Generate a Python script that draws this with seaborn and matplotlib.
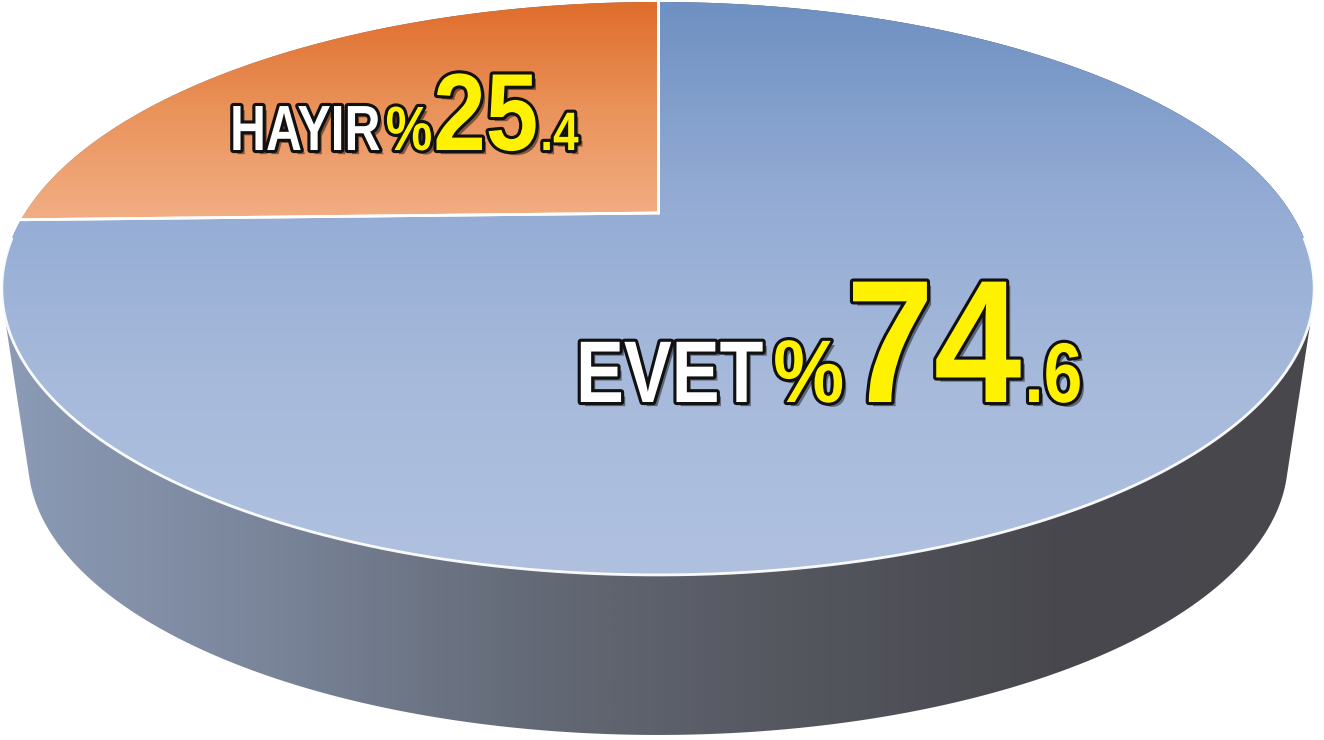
import numpy as np
import matplotlib
matplotlib.use("Agg")
import matplotlib.pyplot as plt
import seaborn as sns
from matplotlib.patches import Polygon
from matplotlib.colors import LinearSegmentedColormap
from matplotlib.transforms import Affine2D
import matplotlib.patheffects as pe

# ---- data ----
labels = ["HAYIR", "EVET"]
values = [25.4, 74.6]
int_parts = ["25", "74"]
dec_parts = [".4", ".6"]

sns.set_theme(style="white")
FONT = ["Liberation Sans", "DejaVu Sans"]
plt.rcParams["font.family"] = FONT

# perspective geometry of the pie (pixel space)
XC, YC, W, H, K = 658.0, 213.0, 633.0, 266.6, 0.2634
SB = 0.96            # bottom face scale
YCB = 387.5          # bottom face centre


def proj(theta, w=W, h=H, yc=YC):
    x, y = np.cos(theta), np.sin(theta)
    d = 1 + K * y
    return np.column_stack([XC + w * x / d, yc - h * y / d])


def hull(points):
    pts = sorted(map(tuple, points))
    def cross(o, a, b):
        return (a[0] - o[0]) * (b[1] - o[1]) - (a[1] - o[1]) * (b[0] - o[0])
    lower, upper = [], []
    for p in pts:
        while len(lower) >= 2 and cross(lower[-2], lower[-1], p) <= 0:
            lower.pop()
        lower.append(p)
    for p in reversed(pts):
        while len(upper) >= 2 and cross(upper[-2], upper[-1], p) <= 0:
            upper.pop()
        upper.append(p)
    return np.array(lower[:-1] + upper[:-1])


fig = plt.figure(figsize=(13.24, 7.4), dpi=100)
ax = fig.add_axes([0, 0, 1, 1])
ax.set_xlim(0, 1324)
ax.set_ylim(740, 0)
ax.axis("off")


def grad_fill(poly, cmap, vertical=True):
    pts = poly.get_xy()
    x0, x1 = pts[:, 0].min(), pts[:, 0].max()
    y0, y1 = pts[:, 1].min(), pts[:, 1].max()
    g = np.linspace(0, 1, 256)
    arr = g[:, None] if vertical else g[None, :]
    im = ax.imshow(arr, cmap=cmap, extent=(x0, x1, y1, y0), origin="upper",
                   aspect="auto", interpolation="bicubic", zorder=poly.get_zorder())
    im.set_clip_path(poly)


# cylinder body (hull of top and bottom outlines)
tt = np.linspace(0, 2 * np.pi, 720, endpoint=False)
body_pts = hull(np.vstack([proj(tt), proj(tt, W * SB, H * SB, YCB)]))
side = Polygon(body_pts, closed=True, facecolor="none", edgecolor="none", zorder=1)
ax.add_patch(side)
side_cmap = LinearSegmentedColormap.from_list(
    "side", ["#8b9bb6", "#7a859a", "#646a77", "#55575f", "#48484e", "#47474c"])
grad_fill(side, side_cmap, vertical=False)

# top slices
start = np.pi / 2
cmaps = [
    LinearSegmentedColormap.from_list("o", ["#df6d2c", "#ea935b", "#f2ae84"]),
    LinearSegmentedColormap.from_list("b", ["#6e90c2", "#93abd4", "#a7badb", "#b0c1e0"]),
]
total = sum(values)
for v, cm in zip(values, cmaps):
    ang = v / total * 2 * np.pi
    th = np.linspace(start, start + ang, 400)
    arc = proj(th)
    pts = np.vstack([[[XC, YC]], arc])
    poly = Polygon(pts, closed=True, facecolor="none", edgecolor="none", zorder=2)
    ax.add_patch(poly)
    grad_fill(poly, cm, vertical=True)
    ax.plot([XC, arc[0, 0]], [YC, arc[0, 1]], color="white", lw=2, zorder=3)
    ax.plot([XC, arc[-1, 0]], [YC, arc[-1, 1]], color="white", lw=2, zorder=3)
    start += ang

# white rim along the front edge of the top face
rim = proj(np.linspace(np.pi * 1.03, np.pi * 1.97, 300))
ax.plot(rim[:, 0], rim[:, 1], color="white", lw=2, zorder=3, alpha=0.95)


# ---- labels (tall, condensed lettering) ----
class Stretch(pe.AbstractPathEffect):
    """Stretch glyphs vertically about the baseline."""
    def __init__(self, inner, sy):
        super().__init__()
        self.inner, self.sy = inner, sy

    def draw_path(self, renderer, gc, tpath, affine, rgbFace=None):
        self.inner.draw_path(renderer, gc, tpath,
                             Affine2D().scale(1, self.sy) + affine, rgbFace)


def effects(sy):
    base = [pe.SimplePatchShadow(offset=(3, -3), shadow_rgbFace="black", alpha=0.45),
            pe.Stroke(linewidth=4.5, foreground="#111111"), pe.Normal()]
    return [Stretch(e, sy) for e in base]


fig.canvas.draw()
renderer = fig.canvas.get_renderer()


def chain(parts, x, y):
    for s, size, color, sx, gap in parts:
        t = ax.text(x, y, s, fontsize=size * sx, color=color, fontweight="bold",
                    family=FONT, ha="left", va="baseline",
                    path_effects=effects(1.0 / sx), zorder=5)
        bb = t.get_window_extent(renderer)
        x = ax.transData.inverted().transform((bb.x1, bb.y0))[0] + gap


YEL = "#fff200"
specs = {
    "HAYIR": dict(x=230, y=150, parts=[(46, 0.78, 5), (45, 0.84, 1), (79, 0.86, 2), (39, 0.85, 0)]),
    "EVET": dict(x=576, y=402, parts=[(63, 0.82, 10), (64, 0.90, 2), (126, 0.90, 3), (61, 0.82, 0)]),
}
for lab, ip, dp in zip(labels, int_parts, dec_parts):
    s = specs[lab]
    texts = [lab, "%", ip, dp]
    colors = ["white", YEL, YEL, YEL]
    chain([(tx, p[0], c, p[1], p[2]) for tx, c, p in zip(texts, colors, s["parts"])],
          s["x"], s["y"])

fig.savefig("out.png", dpi=100)
